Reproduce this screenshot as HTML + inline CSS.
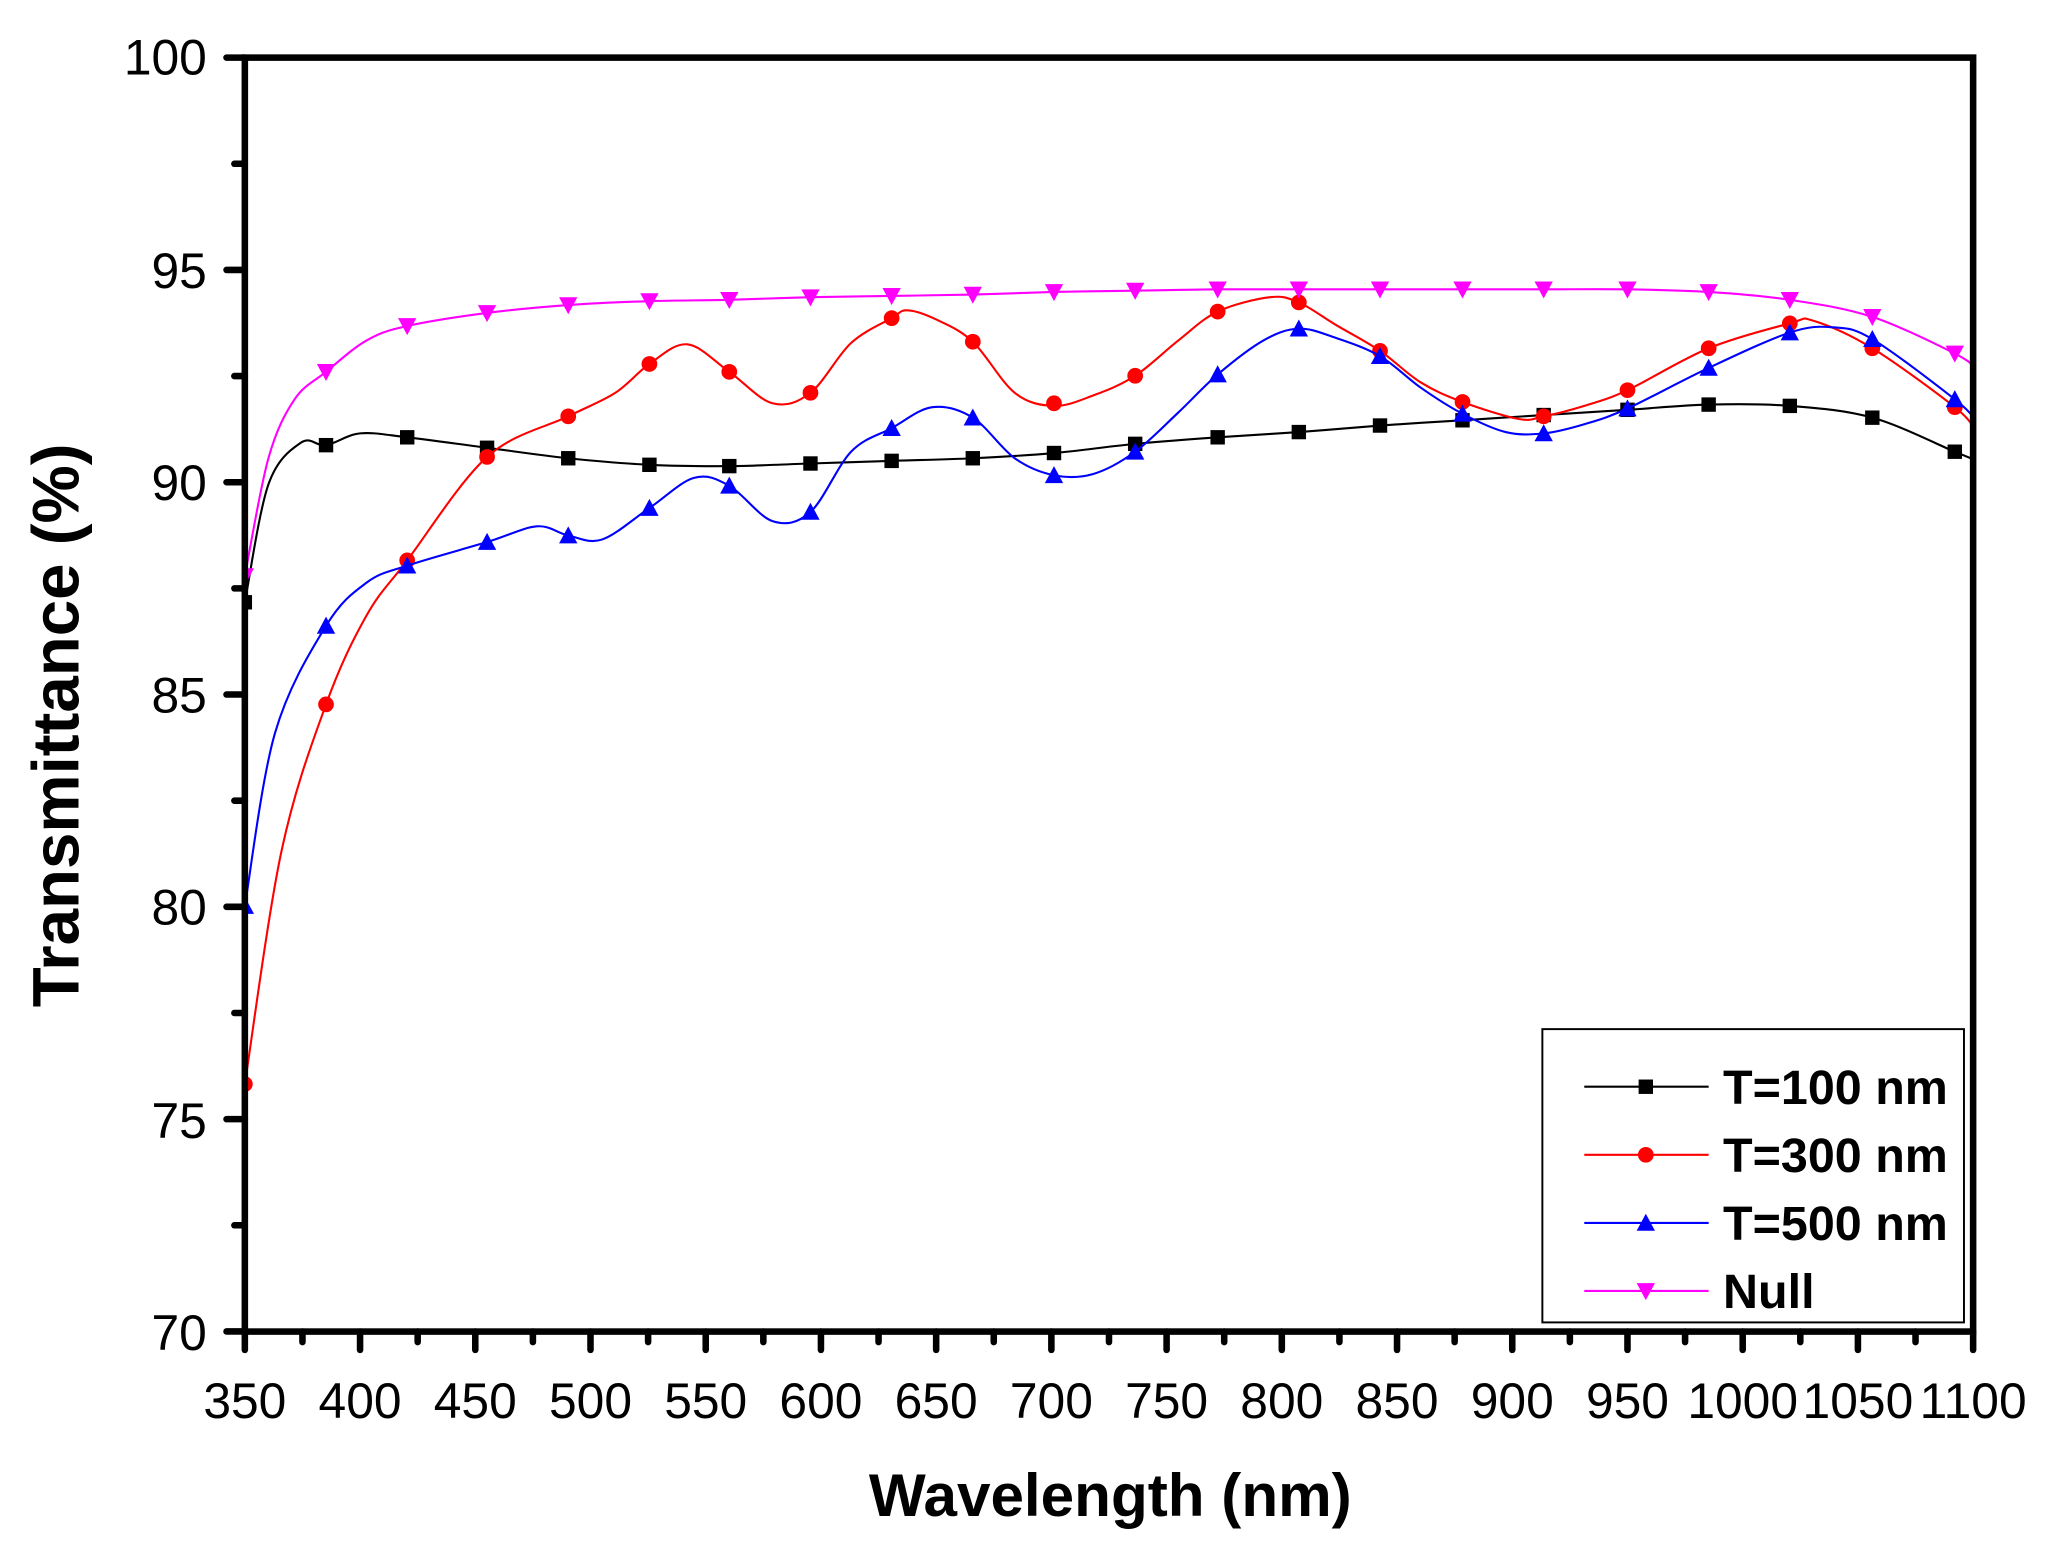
<!DOCTYPE html>
<html><head><style>html,body{margin:0;padding:0;background:#fff}svg{display:block}</style></head>
<body>
<svg id="s" width="2053" height="1559" viewBox="0 0 1568 1190.7" preserveAspectRatio="none" xmlns="http://www.w3.org/2000/svg" font-family="Liberation Sans, Arial, sans-serif">
<defs><clipPath id="c"><rect x="187" y="44" width="1320" height="973"/></clipPath></defs>
<g id="series" clip-path="url(#c)"></g>
<rect x="187" y="44" width="1320" height="973" fill="none" stroke="#000" stroke-width="5"/>
<g id="ticks" stroke="#000" stroke-width="5" stroke-linecap="round"></g>
<g font-size="38" text-anchor="end" fill="#000">
<text x="158" y="57">100</text><text x="158" y="220">95</text><text x="158" y="382">90</text>
<text x="158" y="544">85</text><text x="158" y="706">80</text><text x="158" y="869">75</text><text x="158" y="1031">70</text>
</g>
<g id="xl" font-size="38" text-anchor="middle" fill="#000"></g>
<text x="848" y="1158" font-size="46" font-weight="bold" text-anchor="middle">Wavelength (nm)</text>
<text transform="translate(60,554) rotate(-90)" font-size="50" font-weight="bold" text-anchor="middle">Transmittance (%)</text>
<rect x="1178" y="786" width="322" height="224" fill="#fff" stroke="#000" stroke-width="1.5"/>
<g id="leg"></g>
</svg>
<script>
var NS="http://www.w3.org/2000/svg";
function el(p,t,a){var e=document.createElementNS(NS,t);for(var k in a)e.setAttribute(k,a[k]);p.appendChild(e);return e;}
var tk=document.getElementById('ticks');
for(var w=350;w<=1100;w+=25){var x=187+1.76*(w-350);var L=(w%50==0)?14:8;el(tk,'line',{x1:x,y1:1017,x2:x,y2:1017+L});}
for(var t=70;t<=100;t+=2.5){var y=44+(100-t)*32.43;var L=(t%5==0)?14:8;el(tk,'line',{x1:187,y1:y,x2:187-L,y2:y});}
var xl=document.getElementById('xl');
for(var w=350;w<=1100;w+=50){var x=187+1.76*(w-350);var tt=el(xl,'text',{x:x,y:1083});tt.textContent=w;}
function cr(p){var d="M"+p[0][0]+","+p[0][1];for(var i=0;i<p.length-1;i++){var p0=p[i-1]||p[i],p1=p[i],p2=p[i+1],p3=p[i+2]||p2;
d+=" C"+(p1[0]+(p2[0]-p0[0])/6)+","+(p1[1]+(p2[1]-p0[1])/6)+" "+(p2[0]-(p3[0]-p1[0])/6)+","+(p2[1]-(p3[1]-p1[1])/6)+" "+p2[0]+","+p2[1];}return d;}
var S=[
{c:"#000",m:"sq",line:[[187,460],[205,370],[230,338],[249,340],[275,331],[311,334],[372,342],[434,350],[496,355],[557,356],[619,354],[681,352],[743,350],[805,346],[867,339],[930,334],[992,330],[1054,325],[1117,321],[1179,317],[1243,313],[1305,309],[1367,310],[1430,319],[1493,345],[1510,352]],
 pts:[[187,460],[249,340],[311,334],[372,342],[434,350],[496,355],[557,356],[619,354],[681,352],[743,350],[805,346],[867,339],[930,334],[992,330],[1054,325],[1117,321],[1179,317],[1243,313],[1305,309],[1367,310],[1430,319],[1493,345]]},
{c:"#f00",m:"ci",line:[[187,828],[215,650],[249,538],[280,470],[311,428],[372,349],[434,318],[470,300],[496,278],[525,263],[557,284],[590,308],[619,300],[650,262],[681,243],[693,237],[715,244],[743,261],[775,300],[805,310],[835,302],[867,287],[900,260],[930,238],[970,227],[992,231],[1020,248],[1054,268],[1085,292],[1117,307],[1160,320],[1179,318],[1210,310],[1243,298],[1305,266],[1367,247],[1385,245],[1430,266],[1493,311],[1510,330]],
 pts:[[187,828],[249,538],[311,428],[372,349],[434,318],[496,278],[557,284],[619,300],[681,243],[743,261],[805,308],[867,287],[930,238],[992,231],[1054,268],[1117,307],[1179,318],[1243,298],[1305,266],[1367,247],[1430,266],[1493,311]]},
{c:"#00f",m:"tu",line:[[187,692],[210,560],[249,478],[280,445],[311,432],[372,414],[410,402],[434,409],[460,412],[496,388],[530,365],[557,371],[590,398],[619,391],[650,345],[681,327],[712,311],[743,319],[775,350],[805,363],[835,362],[867,345],[900,315],[930,286],[965,260],[992,251],[1020,258],[1054,272],[1085,296],[1117,316],[1150,330],[1179,331],[1210,324],[1243,312],[1305,281],[1367,254],[1400,250],[1430,259],[1493,305],[1510,322]],
 pts:[[187,692],[249,478],[311,432],[372,414],[434,409],[496,388],[557,371],[619,391],[681,327],[743,319],[805,363],[867,345],[930,286],[992,251],[1054,272],[1117,316],[1179,331],[1243,312],[1305,281],[1367,254],[1430,259],[1493,305]]},
{c:"#f0f",m:"td",line:[[187,440],[205,350],[225,305],[249,284],[280,260],[311,249],[372,239],[434,233],[496,230],[557,229],[619,227],[681,226],[743,225],[805,223],[867,222],[930,221],[992,221],[1054,221],[1117,221],[1179,221],[1243,221],[1305,223],[1367,229],[1430,242],[1493,270],[1510,282]],
 pts:[[187,440],[249,284],[311,249],[372,239],[434,233],[496,230],[557,229],[619,227],[681,226],[743,225],[805,223],[867,222],[930,221],[992,221],[1054,221],[1117,221],[1179,221],[1243,221],[1305,223],[1367,229],[1430,242],[1493,270]]}];
function mk(g,m,x,y,c){if(m=="sq")el(g,'rect',{x:x-5.5,y:y-5.5,width:11,height:11,fill:c});
else if(m=="ci")el(g,'circle',{cx:x,cy:y,r:6,fill:c});
else if(m=="tu")el(g,'polygon',{points:(x-7)+","+(y+6)+" "+(x+7)+","+(y+6)+" "+x+","+(y-7),fill:c});
else el(g,'polygon',{points:(x-7)+","+(y-6)+" "+(x+7)+","+(y-6)+" "+x+","+(y+7),fill:c});}
var g=document.getElementById('series'),lg=document.getElementById('leg');
var names=["T=100 nm","T=300 nm","T=500 nm","Null"];
S.forEach(function(s,i){el(g,'path',{d:cr(s.line),fill:"none",stroke:s.c,"stroke-width":1.6});
s.pts.forEach(function(p){mk(g,s.m,p[0],p[1],s.c);});
var y=830+52*i;el(lg,'line',{x1:1210,y1:y,x2:1305,y2:y,stroke:s.c,"stroke-width":1.6});mk(lg,s.m,1257,y,s.c);
var t=el(lg,'text',{x:1316,y:y+13,"font-size":37,"font-weight":"bold"});t.textContent=names[i];});
</script>
</body></html>
